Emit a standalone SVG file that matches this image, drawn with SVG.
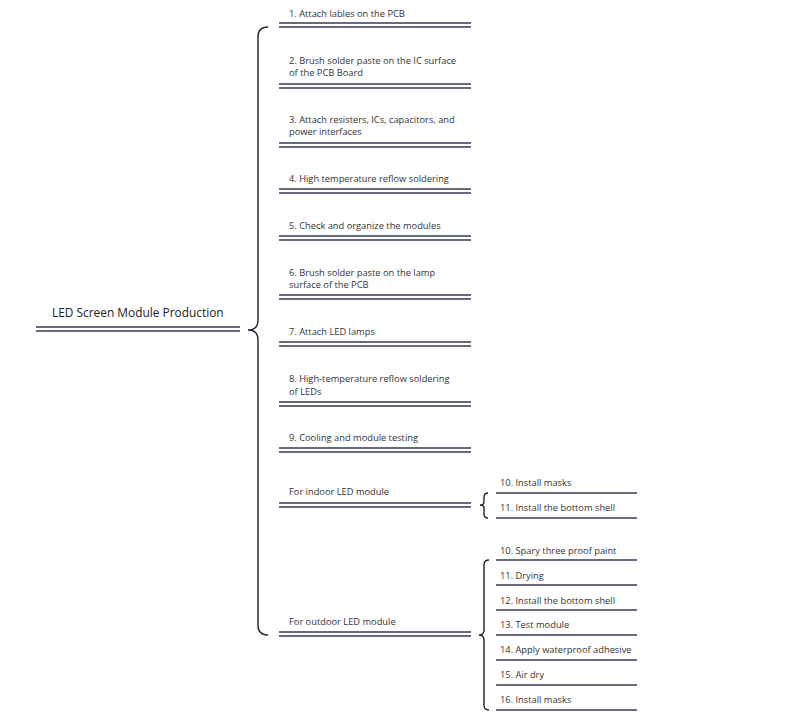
<svg xmlns="http://www.w3.org/2000/svg" width="800" height="718" viewBox="0 0 800 718">
<style>
.t{font-family:"Open Sans","Liberation Sans",sans-serif;font-size:9.3px;fill:#333}
.r{font-family:"Open Sans","Liberation Sans",sans-serif;font-size:11.9px;fill:#222}
.d{stroke:#353a55;stroke-width:1.6;fill:none}
.s{stroke:#353a55;stroke-width:1.4;fill:none}
.b{stroke:#1e2033;stroke-width:1.4;fill:none}
</style>
<rect width="800" height="718" fill="#fff"/>
<g id="connectors">
<path class="b" d="M268,27 Q258,27 258,37 V320 Q258,330 248,330 Q258,330 258,340 V625 Q258,635 268,635"/>
<path class="b" d="M488,493 Q484,493 484,497 V502 Q484,505 480,505 Q484,505 484,508 V514 Q484,518 488,518"/>
<path class="b" d="M489,560 Q484,560 484,565 V630 Q484,635 479,635 Q484,635 484,640 V705 Q484,710 489,710"/>
</g>
<g id="root"><text class="r" x="52" y="317">LED Screen Module Production</text><path class="d" d="M36,327H240M36,331H240"/></g>
<g id="n1"><text class="t" x="289" y="17">1. Attach lables on the PCB</text><path class="d" d="M279,23H471M279,27H471"/></g>
<g id="n2"><text class="t" x="289" y="64">2. Brush solder paste on the IC surface</text><text class="t" x="289" y="76">of the PCB Board</text><path class="d" d="M279,84H471M279,88H471"/></g>
<g id="n3"><text class="t" x="289" y="123">3. Attach resisters, ICs, capacitors, and</text><text class="t" x="289" y="135">power interfaces</text><path class="d" d="M279,143H471M279,147H471"/></g>
<g id="n4"><text class="t" x="289" y="182">4. High temperature reflow soldering</text><path class="d" d="M279,189H471M279,193H471"/></g>
<g id="n5"><text class="t" x="289" y="229">5. Check and organize the modules</text><path class="d" d="M279,236H471M279,240H471"/></g>
<g id="n6"><text class="t" x="289" y="276">6. Brush solder paste on the lamp</text><text class="t" x="289" y="288">surface of the PCB</text><path class="d" d="M279,295H471M279,299H471"/></g>
<g id="n7"><text class="t" x="289" y="335">7. Attach LED lamps</text><path class="d" d="M279,342H471M279,346H471"/></g>
<g id="n8"><text class="t" x="289" y="382">8. High-temperature reflow soldering</text><text class="t" x="289" y="395">of LEDs</text><path class="d" d="M279,402H471M279,406H471"/></g>
<g id="n9"><text class="t" x="289" y="441">9. Cooling and module testing</text><path class="d" d="M279,448H471M279,452H471"/></g>
<g id="indoor"><text class="t" x="289" y="495">For indoor LED module</text><path class="d" d="M279,503H471M279,507H471"/></g>
<g id="outdoor"><text class="t" x="289" y="625">For outdoor LED module</text><path class="d" d="M279,632H471M279,636H471"/></g>
<g id="i10"><text class="t" x="500" y="486">10. Install masks</text><path class="s" d="M496,493H637"/></g>
<g id="i11"><text class="t" x="500" y="511">11. Install the bottom shell</text><path class="s" d="M496,518H637"/></g>
<g id="o10"><text class="t" x="500" y="554">10. Spary three proof paint</text><path class="s" d="M496,560H637"/></g>
<g id="o11"><text class="t" x="500" y="579">11. Drying</text><path class="s" d="M496,585H637"/></g>
<g id="o12"><text class="t" x="500" y="604">12. Install the bottom shell</text><path class="s" d="M496,610H637"/></g>
<g id="o13"><text class="t" x="500" y="628">13. Test module</text><path class="s" d="M496,635H637"/></g>
<g id="o14"><text class="t" x="500" y="653">14. Apply waterproof adhesive</text><path class="s" d="M496,660H637"/></g>
<g id="o15"><text class="t" x="500" y="678">15. Air dry</text><path class="s" d="M496,685H637"/></g>
<g id="o16"><text class="t" x="500" y="703">16. Install masks</text><path class="s" d="M496,710H637"/></g>
</svg>
